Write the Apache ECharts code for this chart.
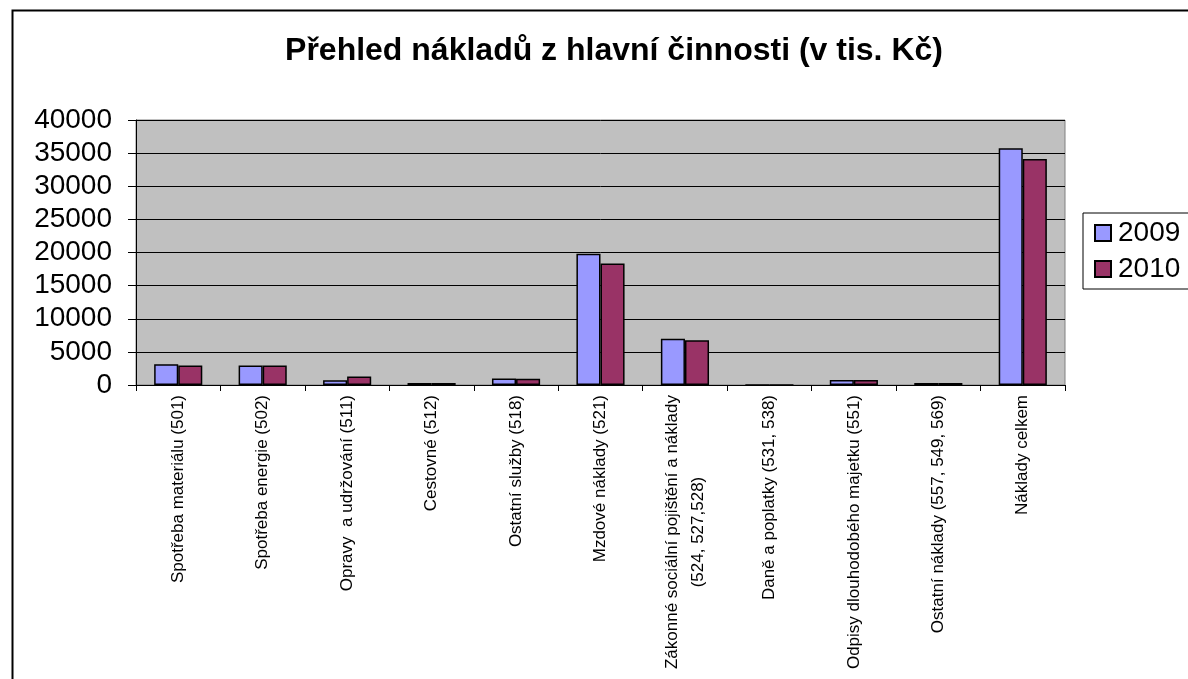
<!DOCTYPE html>
<html><head><meta charset="utf-8">
<script src="https://cdn.jsdelivr.net/npm/echarts@6/dist/echarts.min.js"></script>
<style>html,body{margin:0;padding:0;background:#fff}#c{width:1188px;height:679px}</style>
</head><body><div id="c"></div>
<script>
const categories = [
  'Spotřeba materiálu (501)',
  'Spotřeba energie (502)',
  'Opravy  a udržování (511)',
  'Cestovné (512)',
  'Ostatní služby (518)',
  'Mzdové náklady (521)',
  'Zákonné sociální pojištění a náklady\n(524, 527,528)',
  'Daně a poplatky (531, 538)',
  'Odpisy dlouhodobého majetku (551)',
  'Ostatní náklady (557, 549, 569)',
  'Náklady celkem'
];
const values2009 = [3150, 2950, 700, 300, 1000, 19800, 7000, 0, 750, 300, 35750];
const values2010 = [2950, 2950, 1300, 300, 950, 18350, 6750, 0, 750, 300, 34100];
const yTicks = [0, 5000, 10000, 15000, 20000, 25000, 30000, 35000, 40000];

const chart = echarts.init(document.getElementById('c'));
const FONT = 'Liberation Sans, Arial, sans-serif';
chart.setOption({
  animation: false,
  backgroundColor: '#fff',
  title: {
    text: 'Přehled nákladů z hlavní činnosti (v tis. Kč)',
    left: 609, top: 30, textAlign: 'center',
    textStyle: {fontFamily: FONT, fontSize: 32, fontWeight: 'bold', color: '#000'}
  },
  graphic: [{
    type: 'rect', left: 10, top: 8, silent: true,
    shape: {width: 1250, height: 750},
    style: {fill: 'none', stroke: '#000', lineWidth: 2}
  }],
  legend: {
    orient: 'vertical', left: 1083, top: 213,
    padding: [6, 20, 6, 11], itemGap: 8,
    itemWidth: 16, itemHeight: 16,
    borderColor: '#000', borderWidth: 1, backgroundColor: '#fff',
    icon: 'rect',
    textStyle: {fontFamily: FONT, fontSize: 28, color: '#000', padding: [0, 0, 0, 2]},
    data: ['2009', '2010']
  },
  grid: {left: 136, right: 123, top: 120, bottom: 294, show: true, backgroundColor: '#C0C0C0', borderColor: '#808080', borderWidth: 1},
  xAxis: {
    type: 'category', data: categories,
    axisLine: {lineStyle: {color: '#000', width: 1}},
    axisTick: {show: true, length: 6, lineStyle: {color: '#000'}},
    axisLabel: {
      rotate: 90, interval: 0, margin: 10,
      fontFamily: FONT, fontSize: 17, color: '#000', lineHeight: 26,
      formatter: function (v) {
        if (v.indexOf('\n') >= 0) {
          return v.split('\n').map(s => '{c|' + s + '}').join('\n');
        }
        return v;
      },
      rich: {c: {align: 'center', fontFamily: FONT, fontSize: 17, color: '#000', lineHeight: 26}}
    }
  },
  yAxis: {
    type: 'value', min: 0, max: 40000, interval: 5000,
    axisLine: {show: true, lineStyle: {color: '#000'}},
    axisTick: {show: true, length: 8, lineStyle: {color: '#000'}},
    splitLine: {lineStyle: {color: '#000', width: 1}},
    axisLabel: {fontFamily: FONT, fontSize: 28, color: '#000', margin: 24,
      formatter: v => yTicks.includes(v) ? String(v) : ''}
  },
  series: [
    {name: '2009', type: 'bar', data: values2009, barCategoryGap: '43%', barGap: '0%',
     itemStyle: {color: '#9999FF', borderColor: '#000', borderWidth: 1.5}},
    {name: '2010', type: 'bar', data: values2010, barCategoryGap: '43%', barGap: '0%',
     itemStyle: {color: '#993366', borderColor: '#000', borderWidth: 1.5}}
  ]
});
</script></body></html>
